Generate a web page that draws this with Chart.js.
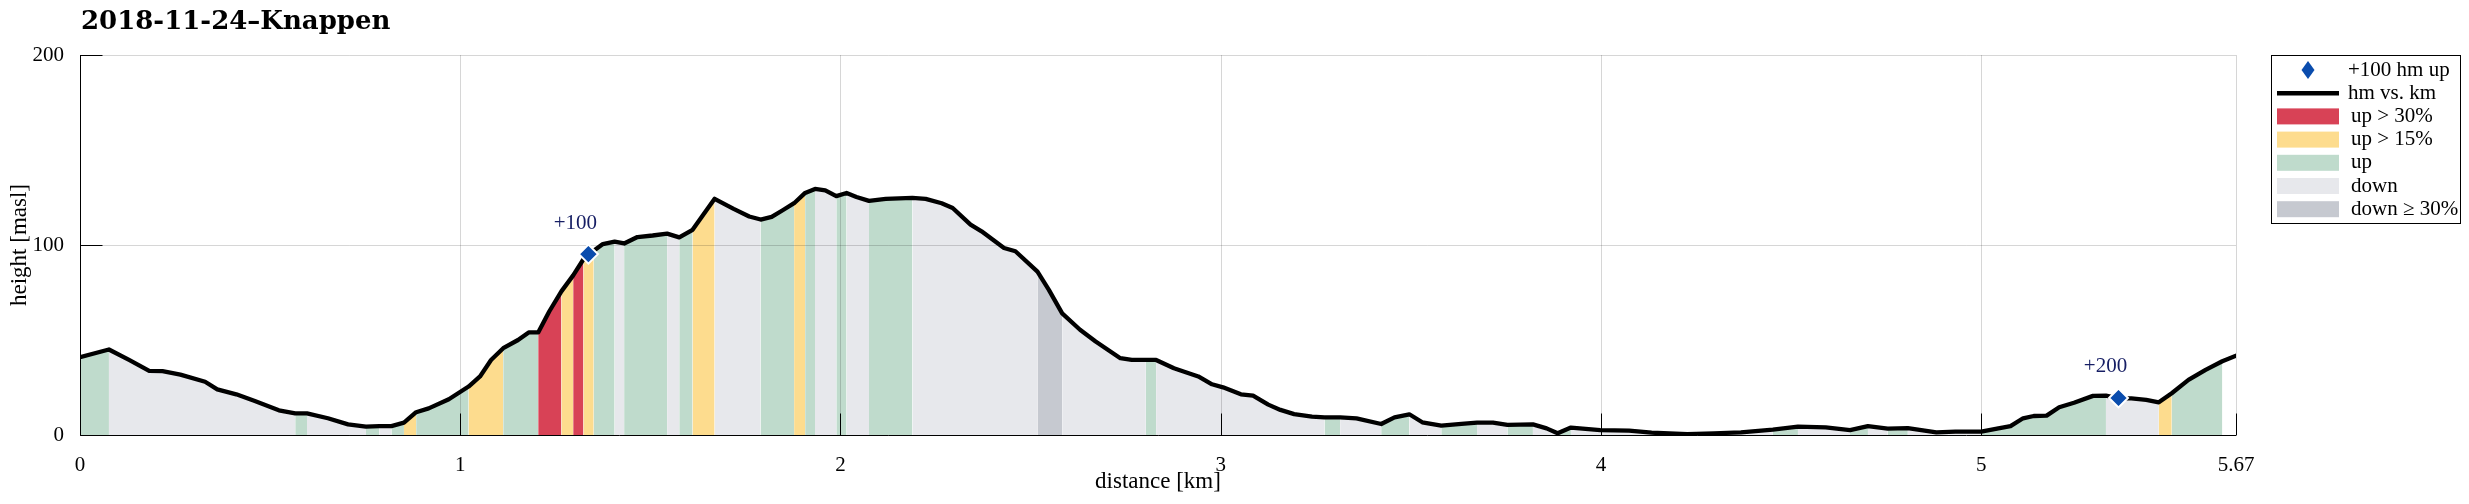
<!DOCTYPE html>
<html>
<head>
<meta charset="utf-8">
<title>2018-11-24–Knappen</title>
<script src="https://cdn.jsdelivr.net/npm/chart.js@4.4.1/dist/chart.umd.min.js"></script>
<style>
  html, body { margin: 0; padding: 0; background: #fff; }
  canvas { display: block; }
</style>
</head>
<body>
<canvas id="profile" width="2469" height="504"></canvas>
<script>
// Elevation profile.
// gradeClass[i] is the class of the segment that starts at point i.
var distKm = [
    0.000, 0.076, 0.129, 0.182, 0.217, 0.264, 0.329, 0.361, 0.411, 0.458,
    0.523, 0.566, 0.597, 0.652, 0.705, 0.752, 0.787, 0.819, 0.852, 0.884,
    0.917, 0.970, 1.022, 1.052, 1.081, 1.113, 1.152, 1.180, 1.205, 1.234,
    1.266, 1.297, 1.324, 1.351, 1.375, 1.406, 1.431, 1.466, 1.506, 1.544,
    1.576, 1.611, 1.669, 1.719, 1.760, 1.790, 1.819, 1.848, 1.878, 1.907,
    1.933, 1.960, 1.989, 2.016, 2.042, 2.075, 2.119, 2.189, 2.224, 2.266,
    2.295, 2.342, 2.371, 2.430, 2.460, 2.518, 2.548, 2.583, 2.630, 2.671,
    2.736, 2.766, 2.803, 2.830, 2.877, 2.941, 2.977, 3.006, 3.053, 3.085,
    3.125, 3.157, 3.193, 3.240, 3.273, 3.314, 3.357, 3.422, 3.457, 3.496,
    3.530, 3.580, 3.633, 3.674, 3.716, 3.754, 3.821, 3.857, 3.886, 3.921,
    3.998, 4.074, 4.133, 4.227, 4.297, 4.368, 4.452, 4.518, 4.591, 4.655,
    4.702, 4.754, 4.807, 4.882, 4.932, 5.000, 5.038, 5.077, 5.110, 5.138,
    5.172, 5.205, 5.244, 5.294, 5.328, 5.361, 5.395, 5.434, 5.467, 5.501,
    5.545, 5.590, 5.634, 5.670
];
var heightM = [
    41.0, 45.0, 39.5, 33.7, 33.6, 31.8, 28.0, 24.0, 21.4, 18.0,
    13.0, 11.4, 11.4, 8.8, 5.6, 4.4, 4.7, 4.7, 6.5, 12.0,
    14.0, 18.8, 25.5, 30.8, 39.5, 45.7, 50.0, 54.0, 54.0, 65.0,
    75.6, 84.0, 92.5, 97.0, 100.5, 101.8, 100.8, 104.2, 105.0, 106.0,
    104.0, 108.0, 124.3, 119.0, 115.0, 113.4, 114.8, 118.3, 122.0, 127.4,
    129.5, 128.8, 125.7, 127.4, 125.3, 123.2, 124.3, 124.8, 124.3, 122.0,
    119.5, 110.7, 107.2, 98.4, 96.7, 86.0, 76.4, 64.0, 55.4, 49.2,
    40.4, 39.5, 39.5, 39.5, 35.1, 30.8, 26.7, 25.1, 21.4, 20.7,
    16.0, 13.2, 11.0, 9.7, 9.3, 9.3, 8.8, 5.8, 9.3, 10.9,
    6.7, 4.9, 5.8, 6.5, 6.5, 5.3, 5.6, 3.5, 0.9, 3.9,
    2.6, 2.3, 1.2, 0.5, 0.9, 1.4, 2.8, 4.4, 4.0, 2.6,
    4.7, 3.4, 3.6, 1.4, 1.8, 1.8, 3.2, 4.7, 8.8, 10.0,
    10.2, 14.6, 17.0, 20.6, 20.7, 19.3, 19.3, 18.5, 17.2, 22.0,
    29.0, 34.3, 38.8, 41.7
];
// g = up, y = up > 15%, r = up > 30%, d = down, s = down >= 30%, n = none
var gradeClass = [
    'g', 'd', 'd', 'd', 'd', 'd', 'd', 'd', 'd', 'd',
    'd', 'g', 'd', 'd', 'd', 'g', 'd', 'g', 'y', 'g',
    'g', 'g', 'y', 'y', 'y', 'g', 'g', 'g', 'r', 'r',
    'y', 'r', 'y', 'g', 'g', 'd', 'g', 'g', 'g', 'd',
    'g', 'y', 'd', 'd', 'd', 'g', 'g', 'g', 'y', 'g',
    'd', 'd', 'g', 'd', 'd', 'g', 'g', 'd', 'd', 'd',
    'd', 'd', 'd', 'd', 'd', 's', 's', 'd', 'd', 'd',
    'd', 'd', 'g', 'd', 'd', 'd', 'd', 'd', 'd', 'd',
    'd', 'd', 'd', 'd', 'g', 'd', 'd', 'g', 'g', 'd',
    'd', 'g', 'g', 'd', 'd', 'g', 'd', 'd', 'g', 'd',
    'd', 'd', 'd', 'd', 'd', 'd', 'g', 'd', 'd', 'g',
    'd', 'g', 'd', 'd', 'd', 'g', 'g', 'g', 'g', 'g',
    'g', 'g', 'g', 'g', 'd', 'd', 'd', 'd', 'y', 'g',
    'g', 'g', 'n', 'n'
];

// +100 hm climbing markers.
var markerKm = [1.337, 5.361];
var markerM = [95.2, 19.5];
var markerLabels = ['+100', '+200'];

var xTicks = [0, 1, 2, 3, 4, 5, 5.67];
var yTicks = [0, 100, 200];

var legendLabels = ['+100 hm up', 'hm vs. km', 'up > 30%', 'up > 15%', 'up', 'down', 'down \u2265 30%'];

var classColour = {
    r: 'rgb(216, 66, 86)',
    y: 'rgb(253, 220, 142)',
    g: 'rgb(191, 219, 204)',
    d: 'rgb(231, 232, 236)',
    s: 'rgb(198, 201, 208)',
    n: 'rgba(0, 0, 0, 0)'
};
var markerColour = 'rgb(10, 76, 173)';
var serif = '"Liberation Serif", "Times New Roman", serif';

Chart.defaults.font.family = serif;
Chart.defaults.color = '#000';

var profile = distKm.map(function(d, i) {
    return {x: d, y: heightM[i]};
});
var markers = markerKm.map(function(d, i) {
    return {x: d, y: markerM[i]};
});

/**
 * Grid, black axes and inward ticks, painted over the coloured fill
 * but under the profile line.
 */
var framePlugin = {
    id: 'frame',
    afterDatasetDraw: function(chart, args) {
        if (args.index !== 0) {
            return;
        }
        var ctx = chart.ctx;
        var a = chart.chartArea;
        var x = chart.scales.x;
        var y = chart.scales.y;
        var left = Math.round(a.left) + 0.5;
        var bottom = Math.round(a.bottom) + 0.5;

        ctx.save();
        ctx.lineWidth = 1;
        ctx.strokeStyle = 'rgba(0, 0, 0, 0.16)';
        ctx.beginPath();
        xTicks.forEach(function(v) {
            var px = Math.round(x.getPixelForValue(v)) + 0.5;
            ctx.moveTo(px, a.top);
            ctx.lineTo(px, a.bottom);
        });
        yTicks.forEach(function(v) {
            var py = Math.round(y.getPixelForValue(v)) + 0.5;
            ctx.moveTo(a.left, py);
            ctx.lineTo(a.right, py);
        });
        ctx.stroke();

        ctx.strokeStyle = '#000';
        ctx.beginPath();
        ctx.moveTo(left, a.top);
        ctx.lineTo(left, bottom);
        ctx.lineTo(a.right, bottom);
        xTicks.forEach(function(v) {
            var px = Math.round(x.getPixelForValue(v)) + 0.5;
            ctx.moveTo(px, bottom);
            ctx.lineTo(px, bottom - 22);
        });
        yTicks.forEach(function(v) {
            var py = Math.round(y.getPixelForValue(v)) + 0.5;
            ctx.moveTo(left, py);
            ctx.lineTo(left + 22, py);
        });
        ctx.stroke();
        ctx.restore();
    }
};

/**
 * Title, marker labels and the boxed legend.
 */
var overlayPlugin = {
    id: 'overlay',
    afterDraw: function(chart) {
        var ctx = chart.ctx;
        var x = chart.scales.x;
        var y = chart.scales.y;
        ctx.save();

        // Title.
        ctx.fillStyle = '#000';
        ctx.font = 'bold 26px "DejaVu Serif", serif';
        ctx.textAlign = 'left';
        ctx.textBaseline = 'alphabetic';
        ctx.fillText('2018-11-24\u2013Knappen', 81, 29);

        // Marker labels.
        ctx.font = '21px ' + serif;
        ctx.fillStyle = 'rgb(22, 30, 100)';
        ctx.textAlign = 'center';
        ctx.textBaseline = 'middle';
        markerLabels.forEach(function(txt, i) {
            var px = x.getPixelForValue(markerKm[i]);
            var py = y.getPixelForValue(markerM[i]);
            ctx.fillText(txt, px - 13, py - 31);
        });

        // Legend box.
        var bx = 2271.5, by = 55.5, bw = 189, bh = 168;
        ctx.fillStyle = '#fff';
        ctx.fillRect(bx, by, bw, bh);
        ctx.strokeStyle = '#000';
        ctx.lineWidth = 1;
        ctx.strokeRect(bx, by, bw, bh);

        var swL = 2277, swW = 62, rowH = 23.2, row0 = 70;
        var swatchKeys = [null, null, 'r', 'y', 'g', 'd', 's'];
        ctx.font = '21px ' + serif;
        ctx.textAlign = 'left';
        ctx.textBaseline = 'middle';
        legendLabels.forEach(function(txt, i) {
            var cy = row0 + i * rowH;
            var tx = 2351;
            if (i === 0) {
                ctx.fillStyle = markerColour;
                ctx.beginPath();
                ctx.moveTo(2308, cy - 9);
                ctx.lineTo(2314.5, cy);
                ctx.lineTo(2308, cy + 9);
                ctx.lineTo(2301.5, cy);
                ctx.closePath();
                ctx.fill();
                tx = 2348;
            } else if (i === 1) {
                ctx.strokeStyle = '#000';
                ctx.lineWidth = 4.5;
                ctx.beginPath();
                ctx.moveTo(swL, cy);
                ctx.lineTo(swL + swW, cy);
                ctx.stroke();
                tx = 2348;
            } else {
                ctx.fillStyle = classColour[swatchKeys[i]];
                ctx.fillRect(swL, cy - 8, swW, 16);
            }
            ctx.fillStyle = '#000';
            ctx.fillText(txt, tx, cy);
        });
        ctx.restore();
    }
};

new Chart(document.getElementById('profile'), {
    type: 'line',
    data: {
        datasets: [{
            // Coloured gradient bands under the profile.
            data: profile,
            order: 3,
            fill: 'origin',
            borderWidth: 0,
            borderColor: 'rgba(0,0,0,0)',
            backgroundColor: classColour.d,
            pointRadius: 0,
            tension: 0,
            segment: {
                backgroundColor: function(c) {
                    return classColour[gradeClass[c.p0DataIndex]];
                }
            }
        }, {
            // hm vs. km line.
            data: profile,
            order: 2,
            fill: false,
            borderColor: '#000',
            borderWidth: 4.3,
            borderJoinStyle: 'round',
            borderCapStyle: 'round',
            pointRadius: 0,
            tension: 0
        }, {
            // +100 hm markers.
            data: markers,
            order: 1,
            showLine: false,
            pointStyle: 'rectRot',
            pointRadius: 9.5,
            pointBackgroundColor: markerColour,
            pointBorderColor: '#fff',
            pointBorderWidth: 2
        }]
    },
    options: {
        responsive: false,
        animation: false,
        events: [],
        layout: {
            padding: {top: 55, right: 233, bottom: 0, left: 0}
        },
        scales: {
            x: {
                type: 'linear',
                min: 0,
                max: 5.67,
                afterBuildTicks: function(scale) {
                    scale.ticks = xTicks.map(function(v) { return {value: v}; });
                },
                afterFit: function(scale) {
                    scale.height = 69;
                },
                grid: {display: false},
                border: {display: false},
                ticks: {
                    autoSkip: false,
                    maxRotation: 0,
                    padding: 10,
                    font: {size: 21},
                    callback: function(v) { return String(v); }
                },
                title: {
                    display: true,
                    text: 'distance [km]',
                    font: {size: 23},
                    padding: {top: 0, bottom: 8}
                }
            },
            y: {
                min: 0,
                max: 200,
                afterBuildTicks: function(scale) {
                    scale.ticks = yTicks.map(function(v) { return {value: v}; });
                },
                afterFit: function(scale) {
                    scale.width = 80;
                },
                grid: {display: false},
                border: {display: false},
                ticks: {
                    padding: 8,
                    font: {size: 21},
                    callback: function(v) { return String(v); }
                },
                title: {
                    display: true,
                    text: 'height [masl]',
                    font: {size: 23},
                    padding: {top: 6, bottom: 0}
                }
            }
        },
        plugins: {
            legend: {display: false},
            title: {display: false},
            tooltip: {enabled: false}
        }
    },
    plugins: [framePlugin, overlayPlugin]
});
</script>
</body>
</html>
